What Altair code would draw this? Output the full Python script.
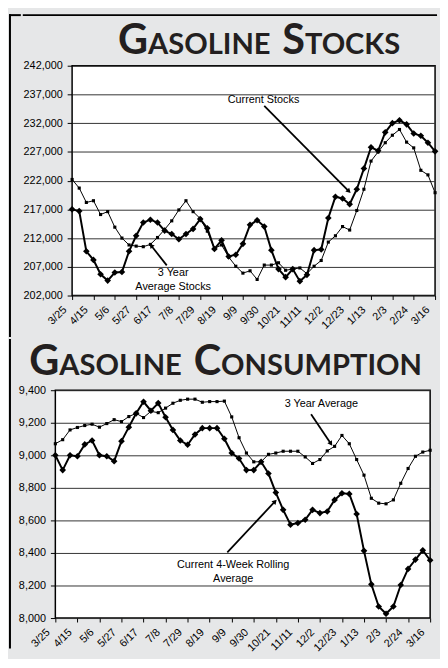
import json
import altair as alt
import pandas as pd

# ---------------- data ----------------
WEEK_TICK_LABELS = ["3/25", "4/15", "5/6", "5/27", "6/17", "7/8", "7/29", "8/19", "9/9",
                    "9/30", "10/21", "11/11", "12/2", "12/23", "1/13", "2/3", "2/24", "3/16"]

STOCKS_Y_TICKS = [202000, 207000, 212000, 217000, 222000, 227000, 232000, 237000, 242000]
CONS_Y_TICKS = [8000, 8200, 8400, 8600, 8800, 9000, 9200, 9400]

stocks_current = [217000, 216700, 209700, 208200, 205700, 204600, 206000, 206100, 209700, 212400,
                  214700, 215200, 214700, 213300, 212700, 211800, 212700, 213600, 215300, 213700,
                  210100, 211600, 208800, 209100, 211000, 214300, 215100, 214000, 209900, 206600,
                  205200, 206600, 204500, 205600, 209900, 210000, 215500, 219200, 218900, 217900,
                  220500, 224100, 227800, 227200, 230400, 232000, 232500, 231800, 230200, 229800,
                  228600, 227100]
stocks_avg3 = [222200, 220700, 218200, 218500, 216100, 216600, 213900, 212000, 210800, 210600,
               210500, 210900, 212100, 213500, 215000, 216900, 218500, 216600, 215400, 213200,
               210200, 210800, 208700, 207100, 205900, 206300, 204800, 207300, 207300, 207700,
               206400, 206600, 206800, 205800, 207100, 208100, 211300, 212400, 214000, 213400,
               216800, 220500, 225400, 227000, 228600, 229900, 230900, 228700, 227700, 223800,
               223000, 219900]

cons_current = [9000, 8909, 9000, 8994, 9067, 9091, 9000, 8994, 8964, 9087,
                9173, 9258, 9329, 9274, 9321, 9234, 9156, 9091, 9065, 9128,
                9167, 9167, 9167, 9102, 9014, 8980, 8909, 8909, 8960, 8888,
                8771, 8665, 8574, 8584, 8604, 8665, 8645, 8655, 8726, 8767,
                8763, 8639, 8413, 8207, 8071, 8026, 8071, 8203, 8302, 8359,
                8416, 8355]
cons_avg3 = [9071, 9096, 9156, 9171, 9183, 9191, 9173, 9195, 9219, 9207,
             9238, 9258, 9232, 9270, 9262, 9290, 9320, 9338, 9345, 9345,
             9326, 9330, 9330, 9333, 9236, 9108, 9014, 8960, 8960, 9006,
             9014, 9025, 9025, 9025, 8990, 8950, 8974, 9027, 9055, 9122,
             9071, 8974, 8878, 8736, 8706, 8702, 8726, 8828, 8919, 8994,
             9020, 9031]

# annotation texts (anchored in data space: week index, value)
stocks_notes = pd.DataFrame({
    "week": [26.9, 14.2, 14.2],
    "value": [236100, 205950, 203500],
    "label": ["Current Stocks", "3 Year", "Average Stocks"],
})
stocks_arrow_from_week = [27.0, 13.3]
stocks_arrow_from_value = [235000, 207250]
stocks_arrow_to_week = [38.9, 11.1]
stocks_arrow_to_value = [220150, 210700]
stocks_arrow_angle = [135, 320]

cons_notes = pd.DataFrame({
    "week": [36.2, 24.2, 24.2],
    "value": [9317, 8323, 8242],
    "label": ["3 Year Average", "Current 4-Week Rolling", "Average"],
})
cons_arrow_from_week = [34.8, 23.4]
cons_arrow_from_value = [9253, 8404]
cons_arrow_to_week = [37.5, 29.9]
cons_arrow_to_value = [9071, 8717]
cons_arrow_angle = [146, 43]

N = len(stocks_current)
WEEKS = list(range(N))
FONT = "Liberation Sans"
TITLE_FONT = "Lato"
BG = "#e6e7e8"
BIG, SMALL = 42, 29.5
FRAME_TOP = -52.3  # outer frame line above the top panel

label_expr = json.dumps(WEEK_TICK_LABELS) + "[round(datum.value / 3)]"


def panel(cur, avg, ydom, yticks, w, h, notes, a_fw, a_fv, a_tw, a_tv, a_ang,
          title_parts, extra_layers):
    df = pd.DataFrame({
        "week": WEEKS * 2,
        "value": cur + avg,
        "series": ["current"] * N + ["avg"] * N,
    })
    x = alt.X("week:Q",
              scale=alt.Scale(domain=[0, N - 1], nice=False, zero=False),
              axis=alt.Axis(values=list(range(0, N, 3)), labelExpr=label_expr,
                            labelAngle=-45, labelAlign="right", labelBaseline="bottom",
                            labelOverlap=False, labelOffset=-4, grid=False, title=None,
                            tickSize=4, labelPadding=12, domain=False))
    y = alt.Y("value:Q",
              scale=alt.Scale(domain=ydom, nice=False, zero=False),
              axis=alt.Axis(values=yticks, format=",d", grid=True, gridColor="#333333",
                            gridWidth=1, title=None, tickSize=5, labelPadding=5,
                            domain=False))
    base = alt.Chart(df).encode(x=x, y=y)
    avg_line = base.transform_filter(alt.datum.series == "avg").mark_line(
        color="black", strokeWidth=1,
        point=alt.OverlayMarkDef(shape="square", size=10, filled=True, color="black"))
    cur_line = base.transform_filter(alt.datum.series == "current").mark_line(
        color="black", strokeWidth=2,
        point=alt.OverlayMarkDef(shape="diamond", size=45, filled=True, color="black"))

    note_text = alt.Chart(notes).mark_text(font=FONT, fontSize=11, color="black").encode(
        x=x, y=y, text="label:N")
    arrows = pd.DataFrame({"week": a_fw, "value": a_fv, "week2": a_tw, "value2": a_tv})
    arrow_lines = alt.Chart(arrows).mark_rule(color="black", strokeWidth=1.8).encode(
        x=x, y=y, x2="week2:Q", y2="value2:Q")
    heads = pd.DataFrame({"week": a_tw, "value": a_tv, "angle": a_ang})
    arrow_heads = alt.Chart(heads).mark_point(shape="triangle-up", filled=True, color="black",
                                              size=30, opacity=1).encode(
        x=x, y=y, angle=alt.Angle("angle:Q", scale=None))

    one = pd.DataFrame({"a": [0]})
    titles = []
    for text, xpos, ypos, size, align in title_parts:
        titles.append(alt.Chart(one).mark_text(
            text=text, font=TITLE_FONT, fontWeight="bold", fontSize=size, align=align,
            baseline="alphabetic", color="#231f20").encode(x=alt.value(xpos), y=alt.value(ypos)))

    layers = [avg_line, cur_line, arrow_lines, arrow_heads, note_text] + titles + extra_layers
    return alt.layer(*layers).properties(
        width=w, height=h,
        view=alt.ViewBackground(fill="white", stroke="black", strokeWidth=1.5))


one = pd.DataFrame({"a": [0]})

# outer frame, top edge (part inside the top panel's layer)
top_frame_piece = alt.Chart(one).mark_rect(color="black").encode(
    x=alt.value(-50), x2=alt.value(370), y=alt.value(FRAME_TOP), y2=alt.value(FRAME_TOP + 2))

top = panel(stocks_current, stocks_avg3, [202000, 242000], STOCKS_Y_TICKS, 368, 233,
            stocks_notes, stocks_arrow_from_week, stocks_arrow_from_value,
            stocks_arrow_to_week, stocks_arrow_to_value, stocks_arrow_angle,
            [("G", 77, -12.3, BIG, "right"), ("ASOLINE", 77, -12.3, SMALL, "left"),
             ("S", 236, -12.3, BIG, "right"), ("TOCKS", 236, -12.3, SMALL, "left")],
            [top_frame_piece])

bottom = panel(cons_current, cons_avg3, [8000, 9400], CONS_Y_TICKS, 380, 231,
               cons_notes, cons_arrow_from_week, cons_arrow_from_value,
               cons_arrow_to_week, cons_arrow_to_value, cons_arrow_angle,
               [("G", 4, -15.8, BIG, "right"), ("ASOLINE", 4, -15.8, SMALL, "left"),
                ("C", 168, -15.8, BIG, "right"), ("ONSUMPTION", 168, -15.8, SMALL, "left")],
               [])

spacer1 = alt.layer(
    alt.Chart(one).mark_rect(color="black").encode(
        x=alt.value(0), x2=alt.value(2), y=alt.value(FRAME_TOP), y2=alt.value(275)),
    alt.Chart(one).mark_rect(color="black").encode(
        x=alt.value(0), x2=alt.value(12), y=alt.value(FRAME_TOP), y2=alt.value(FRAME_TOP + 2)),
).properties(width=12, height=233, view=alt.ViewBackground(stroke="transparent"))

spacer2 = alt.Chart(one).mark_rect(color="black").encode(
    x=alt.value(0), x2=alt.value(2), y=alt.value(-52), y2=alt.value(262)
).properties(width=7, height=231, view=alt.ViewBackground(stroke="transparent"))

row0 = alt.hconcat(spacer1, top, spacing=0)
row1 = alt.hconcat(spacer2, bottom, spacing=0)

chart = alt.vconcat(row0, row1, spacing=0).properties(
    background=BG, padding=0
).configure_view(stroke="transparent").configure_axis(
    labelFont=FONT, labelFontSize=11, labelColor="black",
    tickColor="black", tickWidth=1
)

chart.save("out.html", embed_options={"renderer": "svg", "actions": False})
